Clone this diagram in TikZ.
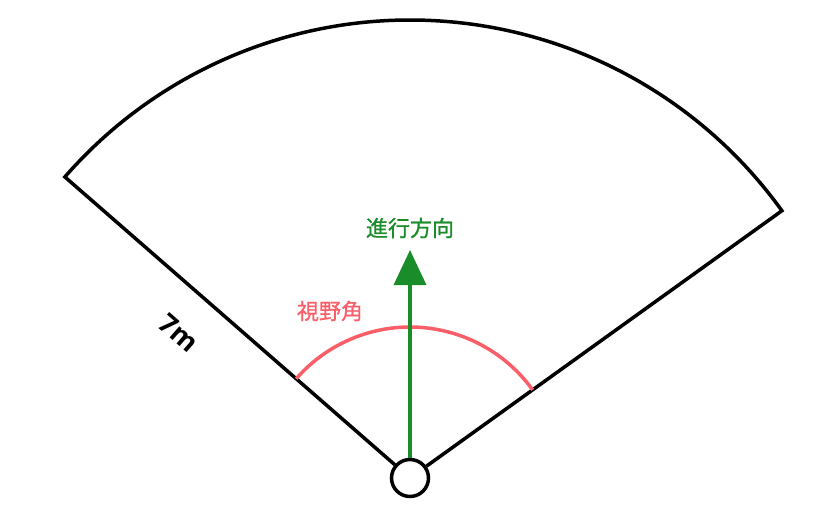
\documentclass[tikz,border=0pt]{standalone}
\usepackage{fontspec}
\newfontfamily\jp[FakeBold=0.8]{Noto Sans CJK JP}
\newfontfamily\lenfont{Open Sans}
\usetikzlibrary{arrows.meta,calc}
\definecolor{dirgreen}{RGB}{26,140,42}
\definecolor{fovred}{RGB}{250,95,105}
\begin{document}
\begin{tikzpicture}[x=1pt,y=1pt,
  edge/.style={draw=black,line width=3.5pt,line join=miter},
  lbl/.style={font=\jp\fontsize{22}{22}\selectfont,inner sep=0pt}]
\useasboundingbox (0,0) rectangle (825,523);
\node[circle,draw=black,line width=3.5pt,fill=white,minimum size=37pt,inner sep=0pt] (O) at (410,45) {};
\coordinate (L) at ($(O.center)+(138.9:458)$);
\coordinate (T) at (410,273);
\draw[edge] (O) -- (L) arc[start angle=138.9,end angle=35.7,radius=458] -- (O);
\draw[fovred,line width=3.5pt] (O.center) ++(35.7:151) arc[start angle=35.7,end angle=138.9,radius=151];
\draw[dirgreen,line width=3.5pt,-{Triangle[length=35pt,width=32pt]}] (O) -- (T);
\node[lbl,text=dirgreen] (dir) at (410,295) {進行方向};
\node[lbl,text=fovred] (fov) at (330,212) {視野角};
\node[inner sep=0pt,font=\lenfont\bfseries\fontsize{27}{27}\selectfont,rotate=-41.1] (len) at (179,190) {7m};
\end{tikzpicture}
\end{document}
